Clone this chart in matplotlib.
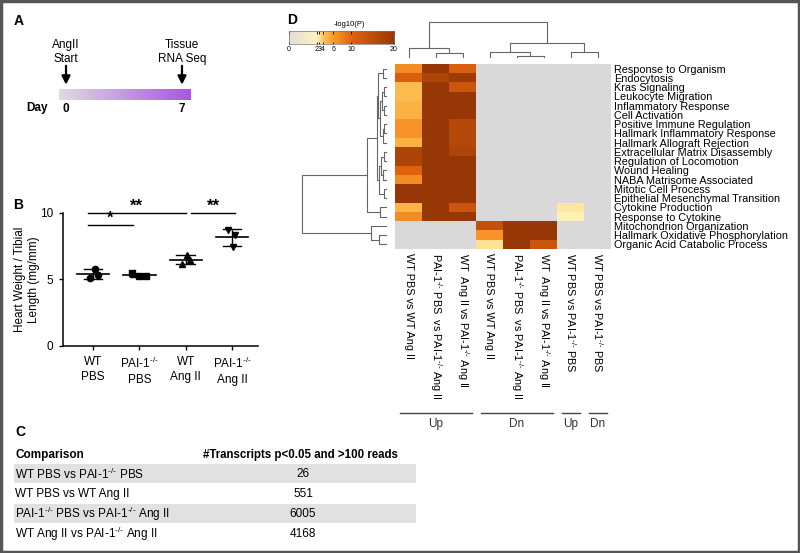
import numpy as np
import matplotlib
matplotlib.use('Agg')
import matplotlib.pyplot as plt
from matplotlib.colors import LinearSegmentedColormap
from matplotlib.patches import Rectangle
import matplotlib.transforms as mtrans

plt.rcParams['font.family'] = ['Liberation Sans', 'DejaVu Sans']
plt.rcParams['mathtext.fontset'] = 'custom'
plt.rcParams['mathtext.rm'] = 'Liberation Sans'
plt.rcParams['mathtext.it'] = 'Liberation Sans:italic'
plt.rcParams['mathtext.bf'] = 'Liberation Sans:bold'

nan = np.nan
KO = r'PAI-1$^{\text{-/-}}$'

# ---------------- data ----------------
# Panel A
timeline_days = [0, 7]
event_labels = ['AngII\nStart', 'Tissue\nRNA Seq']

# Panel B
groups = ['WT\nPBS', KO + '\nPBS', 'WT\nAng II', KO + '\nAng II']
wt_pbs = [5.07, 5.80, 5.30]
pai_pbs = [5.45, 5.25, 5.25]
wt_ang = [6.15, 6.83, 6.45]
pai_ang = [8.70, 8.33, 7.45]
hw_values = [wt_pbs, pai_pbs, wt_ang, pai_ang]
sig_pairs = [(0, 1, '*'), (0, 2, '**'), (2, 3, '**')]

# Panel C
comparisons = ['WT PBS vs ' + KO + ' PBS', 'WT PBS vs WT Ang II',
               KO + ' PBS vs ' + KO + ' Ang II', 'WT Ang II vs ' + KO + ' Ang II']
n_transcripts = [26, 551, 6005, 4168]

# Panel D
pathways = ['Response to Organism', 'Endocytosis', 'Kras Signaling', 'Leukocyte Migration',
            'Inflammatory Response', 'Cell Activation', 'Positive Immune Regulation',
            'Hallmark Inflammatory Response', 'Hallmark Allograft Rejection',
            'Extracellular Matrix Disassembly', 'Regulation of Locomotion', 'Wound Healing',
            'NABA Matrisome Associated', 'Mitotic Cell Process',
            'Epithelial Mesenchymal Transition', 'Cytokine Production',
            'Response to Cytokine', 'Mitochondrion Organization',
            'Hallmark Oxidative Phosphorylation', 'Organic Acid Catabolic Process']
comp_labels = ['WT PBS vs WT Ang II', KO + ' PBS  vs ' + KO + ' Ang II',
               'WT  Ang II vs ' + KO + ' Ang II', 'WT PBS vs WT Ang II',
               KO + ' PBS  vs ' + KO + ' Ang II', 'WT  Ang II vs ' + KO + ' Ang II',
               'WT PBS vs ' + KO + ' PBS', 'WT PBS vs ' + KO + ' PBS']
up_wtpbs_wtang = [7, 11, 4.5, 4.5, 5, 5, 6.5, 6.5, 5, 17, 17, 10, 7, 20, 20, 4.8, 7, nan, nan, nan]
up_paipbs_paiang = [20, 17, 20, 20, 20, 20, 20, 20, 20, 20, 20, 20, 20, 20, 20, 20, 20, nan, nan, nan]
up_wtang_paiang = [11, 19, 13, 20, 20, 20, 16, 16, 16, 17, 20, 20, 20, 20, 20, 13, 20, nan, nan, nan]
dn_wtpbs_wtang = [nan, nan, nan, nan, nan, nan, nan, nan, nan, nan, nan, nan, nan, nan, nan, nan, nan, 14, 6.5, 3]
dn_paipbs_paiang = [nan, nan, nan, nan, nan, nan, nan, nan, nan, nan, nan, nan, nan, nan, nan, nan, nan, 20, 20, 20]
dn_wtang_paiang = [nan, nan, nan, nan, nan, nan, nan, nan, nan, nan, nan, nan, nan, nan, nan, nan, nan, 20, 20, 13]
up_wtpbs_paipbs = [nan, nan, nan, nan, nan, nan, nan, nan, nan, nan, nan, nan, nan, nan, nan, 2.8, 2.2, nan, nan, nan]
dn_wtpbs_paipbs = [nan, nan, nan, nan, nan, nan, nan, nan, nan, nan, nan, nan, nan, nan, nan, nan, nan, nan, nan, nan]
direction_groups = [('Up', 0, 2), ('Dn', 3, 5), ('Up', 6, 6), ('Dn', 7, 7)]

cb_ticks = [0, 2, 3, 4, 6, 10, 20]

# dendrogram linkages: (child_a, child_b, height); children >= n refer to earlier merges
col_links = [(1, 2, 4), (0, 8, 9), (4, 5, 1), (3, 10, 5.3), (6, 7, 5.3), (11, 12, 14.3), (9, 13, 35)]
row_links = [(0, 1, 1.2), (2, 3, 0.8), (4, 5, 0.8), (21, 22, 1.6), (6, 7, 0.6), (24, 8, 1.2),
             (23, 25, 2.2), (20, 26, 2.8), (9, 10, 0.8), (11, 12, 1.0), (28, 29, 1.8),
             (13, 14, 0.7), (30, 31, 2.4), (27, 32, 3.3), (15, 16, 2.1), (33, 34, 6.9),
             (18, 19, 2.5), (17, 36, 5.5), (35, 37, 30)]

# ---------------- layout helpers ----------------
W, H = 800, 553
fig = plt.figure(figsize=(8, 5.53), dpi=100)


def rect(x0, y0, x1, y1):
    return [x0 / W, 1 - y1 / H, (x1 - x0) / W, (y1 - y0) / H]


cv = fig.add_axes([0, 0, 1, 1])
cv.set_xlim(0, W)
cv.set_ylim(H, 0)
cv.axis('off')
cv.add_patch(Rectangle((1, 1), W - 2, H - 2, fill=False, ec='#555555', lw=2.5))

for lab, x, y in [('A', 14, 21), ('B', 13, 205), ('C', 15, 432), ('D', 287, 20)]:
    cv.text(x, y, lab, fontsize=10, fontweight='bold', ha='left', va='center')

# ---------------- Panel A ----------------
axA = fig.add_axes(rect(20, 30, 250, 118))
axA.set_xlim((20 - 66) / 16.57, (250 - 66) / 16.57)
axA.set_ylim(118, 30)
axA.axis('off')
purple = LinearSegmentedColormap.from_list('tl', ['#dedbe2', '#a957e0'])
axA.imshow(np.linspace(0, 1, 256)[None, :], cmap=purple, aspect='auto',
           extent=[timeline_days[0] - 0.42, timeline_days[1] + 0.5, 100, 89])
for d, lab in zip(timeline_days, event_labels):
    axA.annotate('', xy=(d, 87.5), xytext=(d, 63),
                 arrowprops=dict(arrowstyle='-|>,head_length=0.5,head_width=0.25', lw=1.6, color='k'))
    axA.text(d, 52, lab, ha='center', va='center', fontsize=8.5, linespacing=1.15)
    axA.text(d, 108.5, str(d), ha='center', va='center', fontsize=8.5, fontweight='bold')
axA.text(-1.75, 108.5, 'Day', ha='center', va='center', fontsize=8.5, fontweight='bold')

# ---------------- Panel B ----------------
axB = fig.add_axes(rect(63, 212.7, 258, 346))
markers = ['o', 's', '^', 'v']
jit = [[-0.07, 0.04, 0.11], [-0.16, 0.0, 0.14], [-0.09, 0.02, 0.09], [-0.09, 0.06, 0.02]]
for i, vals in enumerate(hw_values):
    xs = i + np.array(jit[i])
    axB.plot(xs, vals, ls='none', marker=markers[i], ms=4.5, color='k', clip_on=False)
    mu = np.mean(vals)
    sd = np.std(vals, ddof=1)
    axB.plot([i - 0.35, i + 0.35], [mu, mu], color='k', lw=1.2)
    axB.plot([i, i], [mu - sd, mu + sd], color='k', lw=1)
    for yy in (mu - sd, mu + sd):
        axB.plot([i - 0.2, i + 0.2], [yy, yy], color='k', lw=1)
axB.set_xlim(-0.65, 3.56)
axB.set_ylim(0, 10)
axB.spines[['top', 'right']].set_visible(False)
for s in ['left', 'bottom']:
    axB.spines[s].set_linewidth(1.1)
axB.set_yticks([0, 5, 10])
axB.set_xticks(range(4))
axB.set_xticklabels(groups, linespacing=1.35)
axB.tick_params(labelsize=8.5, length=3, width=1, pad=4)
axB.set_ylabel('Heart Weight / Tibial\nLength (mg/mm)', fontsize=8.5, linespacing=1.15)
axB.yaxis.set_label_coords(-0.12, 0.5)
sig_trim = [(-0.11, -0.14), (-0.11, 0.0), (0.12, 0.06)]
sig_level = [9.1, 9.95, 9.95]
for (a, b, star), (ta, tb), lv in zip(sig_pairs, sig_trim, sig_level):
    xa, xb = a + ta, b + tb
    axB.plot([xa, xb], [lv, lv], color='k', lw=1, clip_on=False)
    axB.text((xa + xb) / 2, lv - 0.05, star, ha='center', va='bottom', fontsize=12,
             fontweight='bold', clip_on=False)

# ---------------- Panel C ----------------
cv.text(15, 455, 'Comparison', fontsize=8.5, fontweight='bold', ha='left', va='center')
cv.text(203, 455, '#Transcripts p<0.05 and >100 reads', fontsize=8.3, fontweight='bold',
        ha='left', va='center')
for i, (c, n) in enumerate(zip(comparisons, n_transcripts)):
    yc = 474 + 20 * i
    if i % 2 == 0:
        cv.add_patch(Rectangle((14, yc - 10), 402, 19, color='#e1e1e1', lw=0))
    cv.text(15, yc, c, fontsize=8.5, ha='left', va='center')
    cv.text(303, yc, str(n), fontsize=8.5, ha='center', va='center')

# ---------------- Panel D ----------------
cb_pos = [0, 0.265, 0.29, 0.32, 0.42, 0.59, 1.0]
cb_cols = ['#e2dfd6', '#fff3c4', '#ffe292', '#fec75a', '#fa9a2c', '#e0640f', '#983706']
heat = LinearSegmentedColormap.from_list('p', list(zip(cb_pos, cb_cols)))
heat.set_bad('#d9d9d9')

M = np.array([up_wtpbs_wtang, up_paipbs_paiang, up_wtang_paiang, dn_wtpbs_wtang,
              dn_paipbs_paiang, dn_wtang_paiang, up_wtpbs_paipbs, dn_wtpbs_paipbs], float).T
P = np.where(np.isnan(M), np.nan, np.interp(np.nan_to_num(M), cb_ticks, cb_pos))

axH = fig.add_axes(rect(395, 64, 611, 249))
axH.imshow(np.ma.masked_invalid(P), cmap=heat, vmin=0, vmax=1, aspect='auto',
           interpolation='nearest')
axH.set_yticks(range(len(pathways)))
axH.set_yticklabels(pathways, fontsize=7.8)
axH.yaxis.tick_right()
axH.set_xticks(range(len(comp_labels)))
axH.set_xticklabels(comp_labels, rotation=270, fontsize=7.8)
axH.tick_params(length=0, pad=2)
axH.tick_params(axis='x', pad=3)
for s in axH.spines.values():
    s.set_visible(False)
tr = mtrans.blended_transform_factory(axH.transData, axH.transAxes)
for lab, a, b in direction_groups:
    axH.plot([a - 0.32, b + 0.36], [-0.886, -0.886], color='#444444', lw=1,
             transform=tr, clip_on=False)
    axH.text((a + b) / 2 + 0.02, -0.945, lab, transform=tr, ha='center', va='center',
             fontsize=8.5, color='#333333')

# colorbar
axC = fig.add_axes(rect(289, 31, 394, 44))
axC.imshow(np.linspace(0, 1, 256)[None, :], cmap=heat, aspect='auto', extent=[0, 1, 0, 1])
axC.set_xlim(0, 1)
axC.set_yticks([])
axC.set_xticks(cb_pos)
axC.set_xticklabels([str(t) for t in cb_ticks], fontsize=5)
axC.tick_params(axis='x', length=1.8, width=0.6, direction='in', pad=1.5, top=True)
for s in axC.spines.values():
    s.set_linewidth(0.5)
    s.set_color('#777777')
axC.text(0.58, 1.25, '-log10(P)', transform=axC.transAxes, ha='center', va='bottom', fontsize=5.5)


def dendro(ax, links, n, vertical):
    pos = {i: float(i) for i in range(n)}
    hgt = {i: 0.0 for i in range(n)}
    for k, (a, b, h) in enumerate(links):
        node = n + k
        segs = [(pos[a], hgt[a]), (pos[a], h), (pos[b], h), (pos[b], hgt[b])]
        xs, ys = zip(*segs)
        if vertical:
            ax.plot(xs, ys, color='#666666', lw=0.8, clip_on=False)
        else:
            ax.plot(ys, xs, color='#666666', lw=0.8, clip_on=False)
        pos[node] = (pos[a] + pos[b]) / 2
        hgt[node] = h


axT = fig.add_axes(rect(395, 22, 611, 57))
dendro(axT, col_links, 8, True)
axT.set_xlim(-0.5, 7.5)
axT.set_ylim(0, 35)
axT.axis('off')

axL = fig.add_axes(rect(302, 64, 386, 249))
dendro(axL, row_links, 20, False)
axL.set_ylim(19.5, -0.5)
axL.set_xlim(30, 0)
axL.axis('off')

fig.savefig('out.png', dpi=100)
